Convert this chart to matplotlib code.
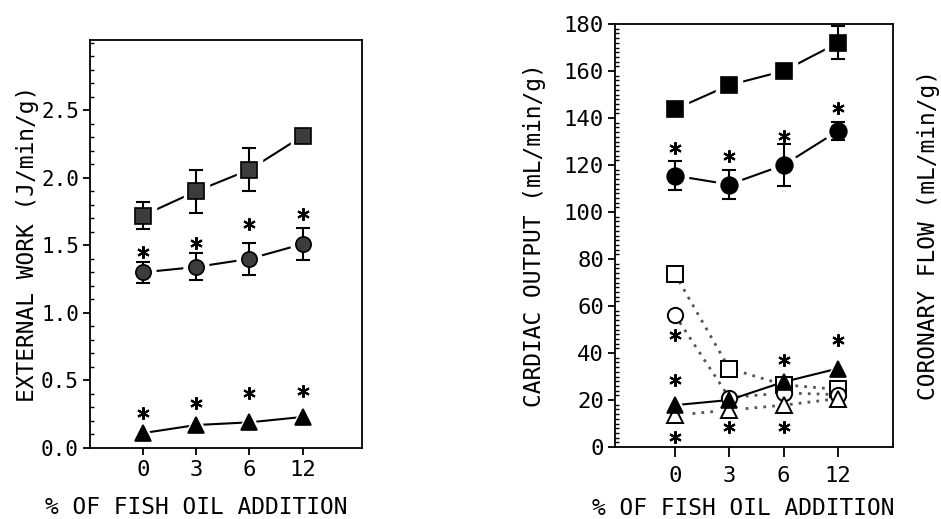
import matplotlib
matplotlib.use("Agg")
import matplotlib.pyplot as plt
from matplotlib.ticker import MultipleLocator, FixedLocator

plt.rcParams['font.family'] = ['DejaVu Sans Mono', 'DejaVu Sans']

doses = ["0", "3", "6", "12"]
xpos = [0, 1, 2, 3]

# External work (J/min/g)
ew_square = [1.72, 1.90, 2.06, 2.31]
ew_square_err = [0.10, 0.16, 0.16, 0.0]
ew_circle = [1.30, 1.34, 1.40, 1.51]
ew_circle_err = [0.08, 0.10, 0.12, 0.12]
ew_triangle = [0.11, 0.17, 0.19, 0.23]
ew_star_circle = [1.45, 1.52, 1.66, 1.73]
ew_star_triangle = [0.26, 0.33, 0.41, 0.42]

# Cardiac output (filled) and coronary flow (open), mL/min/g
co_square = [143.7, 154.0, 160.0, 172.0]
co_square_err = [0.0, 0.0, 0.0, 7.0]
co_circle = [115.5, 111.7, 120.0, 134.5]
co_circle_err = [6.0, 6.0, 9.0, 4.0]
co_triangle = [17.8, 20.0, 27.7, 33.4]
cf_square = [73.7, 33.4, 26.5, 24.5]
cf_circle = [56.2, 21.0, 23.0, 22.3]
cf_triangle = [13.5, 15.7, 17.8, 20.6]
co_star_circle = [127.3, 123.8, 132.3, 144.4]
co_star_x = [0, 0, 0, 1, 2, 2, 3]
co_star_y = [47.7, 28.5, 4.3, 8.5, 37.0, 8.5, 45.5]

W, H = 941, 519
fig = plt.figure(figsize=(W / 100, H / 100), dpi=100)

ax1 = fig.add_axes([90 / W, 1 - 448 / H, 272 / W, 408 / H])
ax2 = fig.add_axes([615 / W, 1 - 447 / H, 278 / W, 423 / H])

lw = 1.5
star = dict(marker=(6, 2, 0), markersize=9, mew=1.5, color='black',
            linestyle='none', zorder=5)
gray = '#3c3c3c'


def series(ax, y, marker, ms, face, err=None):
    """Solid connecting line that stops short of each marker, optional error bars."""
    ax.plot(xpos, y, '-', color='black', lw=lw, zorder=1)
    ax.plot(xpos, y, marker, ms=ms + 7, mfc='white', mec='white',
            linestyle='none', zorder=2)
    if err is not None:
        ax.errorbar(xpos, y, yerr=err, fmt='none', ecolor='black',
                    elinewidth=lw, capsize=5, capthick=lw, zorder=3)
    ax.plot(xpos, y, marker, ms=ms, mfc=face, mec='black', mew=1.2,
            linestyle='none', zorder=4)


# ---- left panel: external work ----
series(ax1, ew_square, 's', 11, gray, ew_square_err)
series(ax1, ew_circle, 'o', 11, gray, ew_circle_err)
series(ax1, ew_triangle, '^', 12, 'black')
ax1.plot(xpos, ew_star_circle, **star)
ax1.plot(xpos, ew_star_triangle, **star)

ax1.set_xlim(-0.99, 4.11)
ax1.set_ylim(0, 3.02)
ax1.yaxis.set_major_locator(FixedLocator([0.0, 0.5, 1.0, 1.5, 2.0, 2.5]))
ax1.set_yticklabels(["0.0", "0.5", "1.0", "1.5", "2.0", "2.5"])
ax1.yaxis.set_minor_locator(MultipleLocator(0.1))
ax1.set_ylabel("EXTERNAL WORK (J/min/g)", fontsize=16.5, va='center')
ax1.yaxis.set_label_coords(-0.228, 0.5)
ax1.tick_params(axis='y', which='major', labelsize=15)

# ---- right panel: cardiac output / coronary flow ----
dot = dict(linestyle=(0, (1, 2.2)), lw=2.0, color='#555555', zorder=1)
ax2.plot(xpos, cf_square, **dot)
ax2.plot(xpos, cf_circle, **dot)
ax2.plot(xpos, cf_triangle, **dot)
series(ax2, co_triangle, '^', 12, 'black')
ax2.plot(xpos, cf_square, 's', mfc='white', mec='black', ms=11, mew=1.4,
         linestyle='none', zorder=3)
ax2.plot(xpos, cf_circle, 'o', mfc='white', mec='black', ms=11, mew=1.4,
         linestyle='none', zorder=3)
ax2.plot(xpos, cf_triangle, '^', mfc='white', mec='black', ms=12, mew=1.4,
         linestyle='none', zorder=3)
series(ax2, co_square, 's', 12, 'black', co_square_err)
series(ax2, co_circle, 'o', 12, 'black', co_circle_err)
ax2.plot(xpos, co_star_circle, **star)
ax2.plot(co_star_x, co_star_y, **star)

ax2.set_xlim(-1.1, 4.01)
ax2.set_ylim(0, 180)
ax2.yaxis.set_major_locator(MultipleLocator(20))
ax2.yaxis.set_minor_locator(MultipleLocator(2))
ax2.set_ylabel("CARDIAC OUTPUT (mL/min/g)", fontsize=16.5, va='center')
ax2.yaxis.set_label_coords(-0.288, 0.5)
ax2.text(1.126, 0.5, "CORONARY FLOW (mL/min/g)", transform=ax2.transAxes,
         rotation=90, ha='center', va='center', fontsize=16.5)
ax2.tick_params(axis='y', which='major', labelsize=16)

for ax, cx, tlen, tpad in ((ax1, 0.39, 5, 4), (ax2, 0.46, 7, 7)):
    ax.set_xticks(xpos)
    ax.set_xticklabels(doses, fontsize=16)
    ax.set_xlabel("% OF FISH OIL ADDITION", fontsize=16.5, va='top')
    ax.xaxis.set_label_coords(cx, -0.118)
    ax.tick_params(axis='x', direction='out', length=tlen, width=1.3, pad=tpad)
    ax.tick_params(axis='y', which='major', direction='out', length=5, width=1.3,
                   pad=3)
    ax.tick_params(axis='y', which='minor', direction='in', length=3, width=1.0)
    for s in ax.spines.values():
        s.set_linewidth(1.3)

fig.savefig("out.png", dpi=100)
